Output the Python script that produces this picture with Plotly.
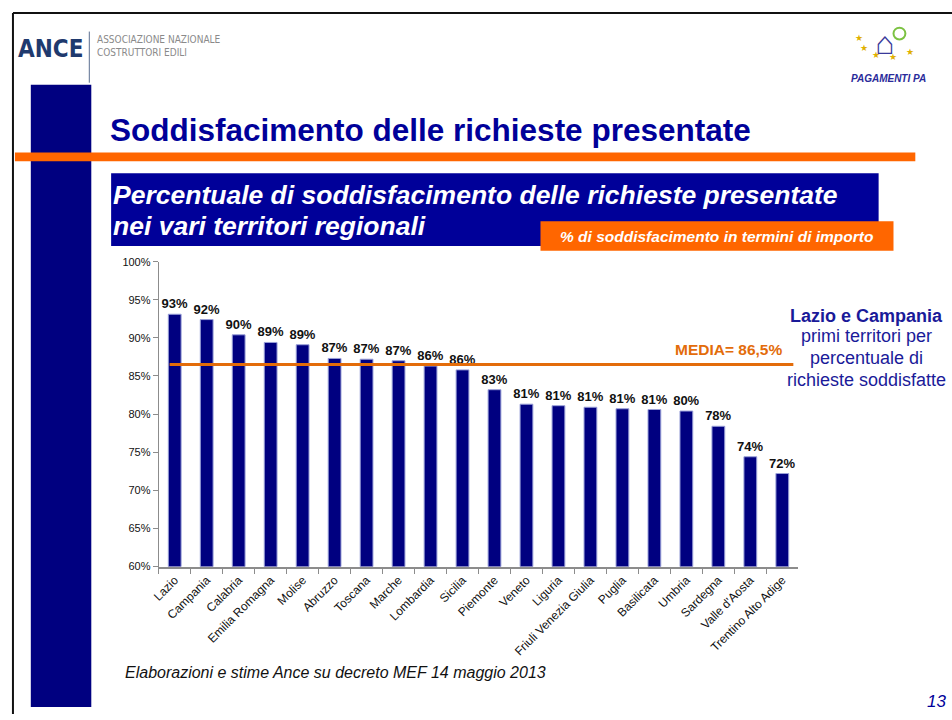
import plotly.graph_objects as go

regions = ["Lazio", "Campania", "Calabria", "Emilia Romagna", "Molise", "Abruzzo",
           "Toscana", "Marche", "Lombardia", "Sicilia", "Piemonte", "Veneto", "Liguria",
           "Friuli Venezia Giulia", "Puglia", "Basilicata", "Umbria", "Sardegna",
           "Valle d'Aosta", "Trentino Alto Adige"]
values = [93.1, 92.4, 90.4, 89.4, 89.1, 87.3, 87.2, 87.0, 86.3, 85.8, 83.2,
          81.3, 81.1, 80.9, 80.7, 80.6, 80.4, 78.4, 74.4, 72.2]
labels = ["93%", "92%", "90%", "89%", "89%", "87%", "87%", "87%", "86%", "86%", "83%",
          "81%", "81%", "81%", "81%", "81%", "80%", "78%", "74%", "72%"]
media = 86.5
y_ticks = [60, 65, 70, 75, 80, 85, 90, 95, 100]
y_tick_labels = [f"{v}%" for v in y_ticks]

W, H = 952, 720
FONT = "Liberation Sans, Arial, sans-serif"
NAVY = "#000080"
BLUE = "#000099"
ORANGE = "#FF6600"
LINE_OR = "#E36C0A"


def px(x):
    return x / W


def py(y):
    return 1 - y / H


fig = go.Figure()
fig.add_trace(go.Bar(
    x=regions, y=values, text=labels, textposition="outside", constraintext="none",
    textfont=dict(family=FONT, size=13, color="#111111", weight="bold"),
    marker=dict(color=NAVY, line=dict(color="#9aa0d8", width=1)),
    width=0.4, cliponaxis=False, hoverinfo="x+y",
))

shapes = []
# frame lines
shapes.append(dict(type="line", xref="paper", yref="paper", x0=px(5), x1=px(5), y0=py(7), y1=py(720),
                   line=dict(color="#111111", width=2)))
shapes.append(dict(type="line", xref="paper", yref="paper", x0=px(5), x1=px(952), y0=py(7), y1=py(7),
                   line=dict(color="#111111", width=2)))
# left navy column
shapes.append(dict(type="rect", xref="paper", yref="paper", x0=px(23), x1=px(84), y0=py(80), y1=py(713),
                   fillcolor=NAVY, line=dict(width=0)))
# orange stripe
shapes.append(dict(type="rect", xref="paper", yref="paper", x0=px(7), x1=px(915), y0=py(149), y1=py(158),
                   fillcolor=ORANGE, line=dict(width=0)))
# separator line in logo
shapes.append(dict(type="line", xref="paper", yref="paper", x0=px(82), x1=px(82), y0=py(26), y1=py(78),
                   line=dict(color="#5a6e90", width=1)))
# subtitle box
shapes.append(dict(type="rect", xref="paper", yref="paper", x0=px(104), x1=px(878), y0=py(170), y1=py(244),
                   fillcolor=BLUE, line=dict(width=0)))
# orange box
shapes.append(dict(type="rect", xref="paper", yref="paper", x0=px(537), x1=px(893), y0=py(219), y1=py(249),
                   fillcolor=ORANGE, line=dict(width=0)))
# media line
shapes.append(dict(type="line", xref="paper", yref="y", x0=px(163), x1=px(792), y0=media, y1=media,
                   line=dict(color=LINE_OR, width=3)))
# logo circle (tree)
shapes.append(dict(type="circle", xref="paper", yref="paper", x0=px(893), x1=px(905), y0=py(22), y1=py(34),
                   line=dict(color="#7cc242", width=2)))

ann = []


def text(x, y, s, size, color, bold=False, italic=False, xanchor="left", yanchor="middle", align="left",
         family=FONT, angle=0):
    ann.append(dict(x=px(x), y=py(y), xref="paper", yref="paper", text=s, showarrow=False,
                    xanchor=xanchor, yanchor=yanchor, align=align, textangle=angle,
                    font=dict(family=family, size=size, color=color,
                              weight="bold" if bold else "normal",
                              style="italic" if italic else "normal")))


text(8, 44, "ANCE", 24, "#1f3a6e", bold=True, family="DejaVu Sans Condensed, Liberation Sans Narrow, Arial")
text(88, 34, "ASSOCIAZIONE NAZIONALE", 10, "#8a8a8a", family="DejaVu Sans Condensed, Arial")
text(88, 47, "COSTRUTTORI EDILI", 10, "#8a8a8a", family="DejaVu Sans Condensed, Arial")
text(101, 126, "Soddisfacimento delle richieste presentate", 31.5, BLUE, bold=True)
text(104, 192, "Percentuale di soddisfacimento delle richieste presentate", 26.5, "white", bold=True, italic=True)
text(104, 224, "nei vari territori regionali", 26.5, "white", bold=True, italic=True)
text(715, 234, "% di soddisfacimento in termini di importo", 15.5, "white", bold=True, italic=True,
     xanchor="center")
text(783, 349, "MEDIA= 86,5%", 15.5, LINE_OR, bold=True, xanchor="right")
text(866, 315, "Lazio e Campania", 18, "#1a1a99", bold=True, xanchor="center")
text(866, 336, "primi territori per", 18, "#1a1a99", xanchor="center")
text(866, 358, "percentuale di", 18, "#1a1a99", xanchor="center")
text(866, 380, "richieste soddisfatte", 18, "#1a1a99", xanchor="center")
text(116, 678, "Elaborazioni e stime Ance su decreto MEF 14 maggio 2013", 16, "#111111", italic=True)
text(936, 707, "13", 17, BLUE, italic=True, xanchor="center")

# simple logo approximation
text(884, 38, "⌂", 32, "#3a3a9a", xanchor="center")
text(858, 33, "★", 9, "#e0b000", xanchor="center")
text(863, 43, "★", 9, "#e0b000", xanchor="center")
text(875, 50, "★", 9, "#e0b000", xanchor="center")
text(893, 52, "★", 9, "#e0b000", xanchor="center")
text(910, 47, "★", 9, "#e0b000", xanchor="center")
text(888, 74, "PAGAMENTI PA", 10, "#2a2a9a", bold=True, italic=True, xanchor="center")

fig.update_layout(
    width=W, height=H, margin=dict(l=0, r=0, t=0, b=0),
    paper_bgcolor="white", plot_bgcolor="white",
    showlegend=False, shapes=shapes, annotations=ann, bargap=0.6,
    xaxis=dict(domain=[px(152), px(797)], showline=True, linecolor="#8c8c8c", linewidth=2,
               ticks="outside", tickson="boundaries", ticklen=5, tickcolor="#8c8c8c",
               tickangle=-45, tickfont=dict(family=FONT, size=12, color="#111111"),
               showgrid=False, zeroline=False),
    yaxis=dict(domain=[py(570), py(260)], range=[60, 100], tickvals=y_ticks, ticktext=y_tick_labels,
               showline=True, linecolor="#8c8c8c", linewidth=1, ticks="outside", ticklen=5,
               tickcolor="#8c8c8c", tickfont=dict(family=FONT, size=11, color="#111111"),
               showgrid=False, zeroline=False),
)

fig.write_html("out.html", config={"displayModeBar": False},
               post_script="document.body.style.margin='0px';document.body.style.padding='0px';"
                           "document.body.style.overflow='hidden';")
